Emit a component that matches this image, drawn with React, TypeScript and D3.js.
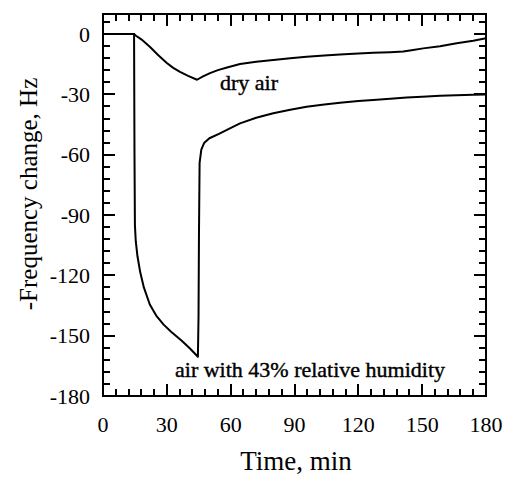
import React from "react";
import * as d3 from "d3";

const W = 506;
const H = 479;

const xTicks = [0, 30, 60, 90, 120, 150, 180];
const yTicks = [0, -30, -60, -90, -120, -150, -180];

const dryAir: [number, number][] = [
  [0, 0], [14.6, 0], [15.5, -0.8], [18, -2.6], [22, -6.3], [26, -10.5], [30, -14.4],
  [33, -16.8], [36.2, -18.8], [40, -20.8], [44.2, -22.7], [47, -21.0], [50.3, -19.4],
  [54, -17.9], [58.3, -16.6], [64.4, -14.9], [72, -13.7], [80, -12.9], [88, -12.0],
  [95.7, -11.3], [104, -10.6], [111.4, -10.1], [120, -9.6], [127, -9.3], [135, -9.0],
  [141.1, -8.7], [145, -8.0], [150.5, -7.1], [158.4, -6.0], [166.2, -4.6], [174, -3.3],
  [180, -2.1],
];

const humidAir: [number, number][] = [
  [0, 0], [14.6, 0], [14.8, -60], [15.0, -95], [15.4, -103], [16.2, -110.5],
  [17.5, -118.5], [19.2, -126], [22, -134.5], [25, -140], [28.5, -144.5], [32, -148],
  [37, -152.5], [41, -156.5], [44.6, -160.5], [44.9, -140], [45.1, -100], [45.4, -64],
  [46.2, -57.5], [47.5, -54.2], [50, -51.8], [54.5, -49.6], [58, -47.8], [64.4, -44.4],
  [72, -41.6], [80, -39.4], [88, -37.6], [95.7, -36.1], [104, -35.0], [111.4, -34.1],
  [120, -33.3], [127, -32.8], [135, -32.1], [142.7, -31.5], [150, -31.1], [158.4, -30.7],
  [166, -30.4], [174, -30.2], [180, -30.0],
];

const FONT = "'Liberation Serif', 'Times New Roman', serif";

export default function App() {
  const left = 103, right = 486, top = 14, bottom = 396;
  const x = d3.scaleLinear().domain([0, 180]).range([left, right]);
  const y = d3.scaleLinear().domain([-180, 10]).range([bottom, top]);

  const line = d3
    .line<[number, number]>()
    .x((d) => x(d[0]))
    .y((d) => y(d[1]));

  const MAJ = 12, MIN = 7;
  const xAll = d3.range(0, 181, 6);
  const yAll = d3.range(-180, 11, 6);
  const TW = 2;

  return (
    <svg
      width={W}
      height={H}
      style={{ position: "absolute", left: 0, top: 0, background: "#fff" }}
      fontFamily={FONT}
    >
      <rect x={0} y={0} width={W} height={H} fill="#fff" />
      <rect
        x={left}
        y={top}
        width={right - left}
        height={bottom - top}
        fill="none"
        stroke="#000"
        strokeWidth={2}
      />
      {xAll.map((t) => {
        const len = t % 30 === 0 ? MAJ : MIN;
        const px = Math.round(x(t));
        return (
          <g key={"xt" + t}>
            <rect x={px - TW / 2} y={bottom - len} width={TW} height={len} fill="#000" />
            <rect x={px - TW / 2} y={top} width={TW} height={len} fill="#000" />
          </g>
        );
      })}
      {yAll.map((t) => {
        const len = t % 30 === 0 ? MAJ : MIN;
        const py = Math.round(y(t));
        return (
          <g key={"yt" + t}>
            <rect x={left} y={py - TW / 2} width={len} height={TW} fill="#000" />
            <rect x={right - len} y={py - TW / 2} width={len} height={TW} fill="#000" />
          </g>
        );
      })}
      <path d={line(dryAir) || ""} fill="none" stroke="#000" strokeWidth={2} strokeLinejoin="round" />
      <path d={line(humidAir) || ""} fill="none" stroke="#000" strokeWidth={2} strokeLinejoin="round" />
      <g fontSize={22} fill="#000">
        {xTicks.map((t) => (
          <text key={"xl" + t} x={x(t)} y={432} textAnchor="middle">
            {t}
          </text>
        ))}
        {yTicks.map((t) => (
          <text key={"yl" + t} x={90} y={y(t) + 7.5} textAnchor="end">
            {t}
          </text>
        ))}
      </g>
      <text x={220} y={90} fontSize={22} fill="#000" stroke="#000" strokeWidth={0.4}>
        dry air
      </text>
      <text x={175} y={377} fontSize={22} fill="#000" stroke="#000" strokeWidth={0.4}>
        air with 43% relative humidity
      </text>
      <text x={296} y={470} fontSize={27} textAnchor="middle" fill="#000">
        Time, min
      </text>
      <text
        transform={`translate(37,194) rotate(-90)`}
        fontSize={25}
        textAnchor="middle"
        fill="#000"
      >
        -Frequency change, Hz
      </text>
    </svg>
  );
}
